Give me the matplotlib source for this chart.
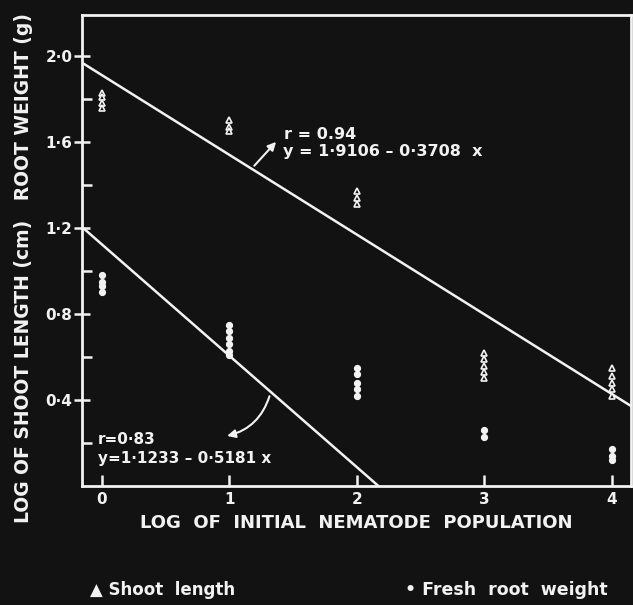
import numpy as np
import matplotlib.pyplot as plt

# Данные: log начальной популяции нематод
shoot_x = [0, 0, 0, 0, 1, 1, 1, 2, 2, 2, 3, 3, 3, 3, 3, 4, 4, 4, 4, 4]
shoot_y = [1.83, 1.81, 1.78, 1.76, 1.70, 1.67, 1.65, 1.37, 1.34, 1.31,
           0.62, 0.59, 0.56, 0.53, 0.50, 0.55, 0.51, 0.48, 0.45, 0.42]
root_x = [0, 0, 0, 0, 1, 1, 1, 1, 1, 1, 2, 2, 2, 2, 2, 3, 3, 4, 4, 4]
root_y = [0.98, 0.95, 0.93, 0.90, 0.75, 0.72, 0.69, 0.66, 0.63, 0.61,
          0.55, 0.52, 0.48, 0.45, 0.42, 0.26, 0.23, 0.17, 0.14, 0.12]

# Линии регрессии
shoot_a, shoot_b = 1.9106, -0.3708
root_a, root_b = 1.1233, -0.5181

bg = '#121212'
fg = '#f2f2f2'
plt.rcParams['font.family'] = ['DejaVu Sans']
plt.rcParams['font.weight'] = 'bold'

fig = plt.figure(figsize=(6.33, 6.05), dpi=100, facecolor=bg)
ax = fig.add_axes([0.1295, 0.1967, 0.8675, 0.7783], facecolor=bg)

xlo, xhi = -0.157, 4.15
xx = np.array([xlo, xhi])
ax.plot(xx, shoot_a + shoot_b * xx, color=fg, lw=1.8)
ax.plot(xx, root_a + root_b * xx, color=fg, lw=1.8)

ax.plot(shoot_x, shoot_y, ls='none', marker='^', ms=4.5,
        mfc=bg, mec=fg, mew=1.2)
ax.plot(root_x, root_y, ls='none', marker='o', ms=4.2,
        mfc=fg, mec=fg)

ax.set_xlim(xlo, xhi)
ax.set_ylim(0, 2.19)

for side in ['left', 'bottom', 'top', 'right']:
    ax.spines[side].set_color(fg)
    ax.spines[side].set_linewidth(2)

ax.set_xticks([0, 1, 2, 3, 4])
ax.set_xticklabels(['0', '1', '2', '3', '4'])
ax.set_yticks([0.4, 0.8, 1.2, 1.6, 2.0])
ax.set_yticklabels(['0·4', '0·8', '1·2', '1·6', '2·0'])
ax.set_yticks([0.2, 0.6, 1.0, 1.4, 1.8], minor=True)

ax.tick_params(axis='x', direction='in', length=8, width=1.8, colors=fg,
               labelsize=11, pad=4, top=False)
ax.tick_params(axis='y', which='major', direction='inout', length=12, width=1.8,
               colors=fg, labelsize=11, pad=1, right=False)
ax.tick_params(axis='y', which='minor', direction='in', length=7, width=1.8,
               colors=fg, right=False)

ax.set_xlabel('LOG  OF  INITIAL  NEMATODE  POPULATION', color=fg,
              fontsize=13, fontweight='bold')
ax.xaxis.set_label_coords(0.5, -0.06)
ax.set_ylabel('LOG OF SHOOT LENGTH (cm)   ROOT WEIGHT (g)', color=fg,
              fontsize=13.5, fontweight='bold')
ax.yaxis.set_label_coords(-0.09, 0.463)

# Подписи уравнений
ax.text(1.43, 1.635, 'r = 0.94', color=fg, fontsize=11.5, va='center')
ax.text(1.42, 1.555, 'y = 1·9106 – 0·3708  x', color=fg, fontsize=11.5, va='center')
ax.annotate('', xy=(1.38, 1.61), xytext=(1.18, 1.48),
            arrowprops=dict(arrowstyle='-|>', color=fg, lw=1.5,
                            mutation_scale=12))

ax.text(-0.03, 0.215, 'r=0·83', color=fg, fontsize=11, va='center')
ax.text(-0.03, 0.13, 'y=1·1233 – 0·5181 x', color=fg, fontsize=11, va='center')
ax.annotate('', xy=(0.96, 0.23), xytext=(1.32, 0.43),
            arrowprops=dict(arrowstyle='-|>', color=fg, lw=1.5,
                            mutation_scale=12,
                            connectionstyle='arc3,rad=-0.3'))

# Легенда внизу
fig.text(0.142, 0.025, '▲ Shoot  length', color=fg, fontsize=12,
         fontweight='bold', va='center')
fig.text(0.64, 0.025, '• Fresh  root  weight', color=fg, fontsize=12.5,
         fontweight='bold', va='center')

fig.savefig('out.png', dpi=100, facecolor=bg)
